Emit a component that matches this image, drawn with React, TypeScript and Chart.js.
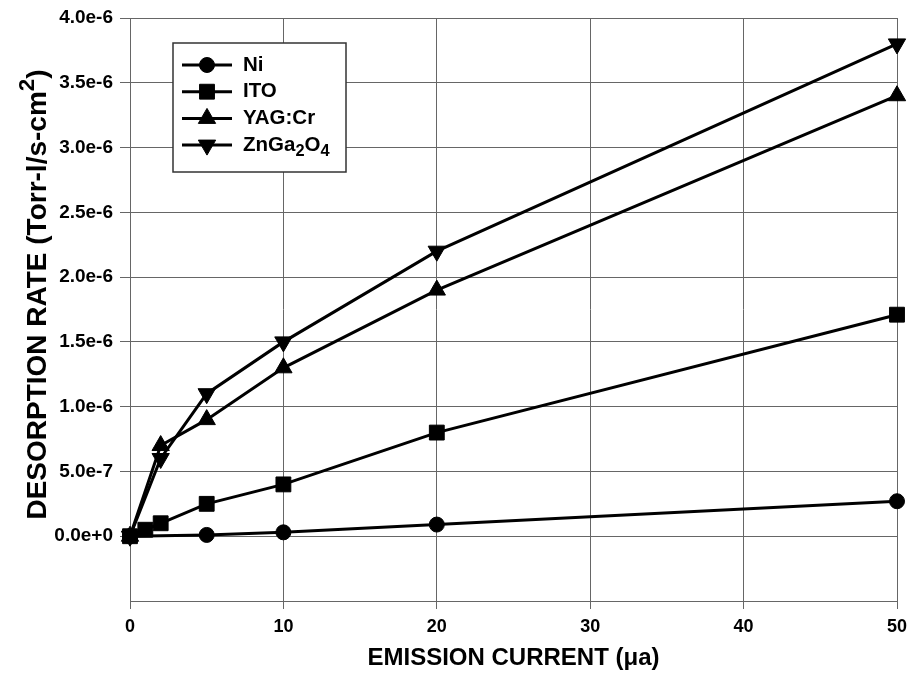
import React, { useEffect, useRef } from 'react';
import { Chart, registerables } from 'chart.js';
import { drawPoint } from 'chart.js/helpers';

Chart.register(...registerables);

// ---- data ----
const niCurrent = [0, 5, 10, 20, 50];
const niRate = [0, 0.01e-6, 0.03e-6, 0.09e-6, 0.27e-6];

const itoCurrent = [0, 1, 2, 5, 10, 20, 50];
const itoRate = [0, 0.05e-6, 0.1e-6, 0.25e-6, 0.4e-6, 0.8e-6, 1.71e-6];

const yagCurrent = [0, 2, 5, 10, 20, 50];
const yagRate = [0, 0.7e-6, 0.9e-6, 1.3e-6, 1.9e-6, 3.4e-6];

const znCurrent = [0, 2, 5, 10, 20, 50];
const znRate = [0, 0.6e-6, 1.1e-6, 1.5e-6, 2.2e-6, 3.8e-6];

const seriesLabels = ['Ni', 'ITO', 'YAG:Cr', 'ZnGa\u2082O\u2084'];
const xTitle = 'EMISSION CURRENT (\u03BCa)';
const yTitle = 'DESORPTION RATE (Torr-l/s-cm\u00B2)';

const FONT = "'Liberation Sans', Arial, Helvetica, sans-serif";

const SUB: Record<string, string> = { '\u2080': '0', '\u2081': '1', '\u2082': '2', '\u2083': '3', '\u2084': '4' };
const SUP: Record<string, string> = { '\u00B2': '2', '\u00B3': '3' };

function splitRich(text: string) {
  const parts: { t: string; k: 'n' | 'sub' | 'sup' }[] = [];
  for (const ch of text) {
    let k: 'n' | 'sub' | 'sup' = 'n';
    let t = ch;
    if (SUB[ch]) { k = 'sub'; t = SUB[ch]; }
    else if (SUP[ch]) { k = 'sup'; t = SUP[ch]; }
    const last = parts[parts.length - 1];
    if (last && last.k === k) last.t += t;
    else parts.push({ t, k });
  }
  return parts;
}

function richWidth(ctx: CanvasRenderingContext2D, text: string, size: number) {
  let w = 0;
  for (const p of splitRich(text)) {
    const s = p.k === 'n' ? size : size * 0.8;
    ctx.font = `bold ${s}px ${FONT}`;
    w += ctx.measureText(p.t).width;
  }
  return w;
}

function drawRich(ctx: CanvasRenderingContext2D, text: string, x: number, y: number, size: number) {
  let cx = x;
  ctx.textBaseline = 'middle';
  ctx.textAlign = 'left';
  for (const p of splitRich(text)) {
    const s = p.k === 'n' ? size : size * 0.8;
    const dy = p.k === 'sub' ? size * 0.32 : p.k === 'sup' ? -size * 0.38 : 0;
    ctx.font = `bold ${s}px ${FONT}`;
    ctx.fillText(p.t, cx, y + dy);
    cx += ctx.measureText(p.t).width;
  }
}

const legendPlugin = {
  id: 'boxLegend',
  afterDraw(chart: any) {
    const ctx: CanvasRenderingContext2D = chart.ctx;
    const { left, top } = chart.chartArea;
    const bx = left + 43;
    const by = top + 25;
    const bw = 173;
    const bh = 129;
    ctx.save();
    ctx.fillStyle = '#ffffff';
    ctx.fillRect(bx, by, bw, bh);
    ctx.strokeStyle = '#333';
    ctx.lineWidth = 1.5;
    ctx.strokeRect(bx, by, bw, bh);
    chart.data.datasets.forEach((ds: any, i: number) => {
      const y = by + 22 + i * 26.7;
      ctx.strokeStyle = '#000';
      ctx.lineWidth = 3;
      ctx.beginPath();
      ctx.moveTo(bx + 9, y);
      ctx.lineTo(bx + 59, y);
      ctx.stroke();
      ctx.fillStyle = '#000';
      ctx.lineWidth = 1;
      drawPoint(ctx, {
        pointStyle: ds.pointStyle,
        rotation: ds.pointRotation || 0,
        radius: ds.pointRadius,
        borderWidth: 1,
      } as any, bx + 34, y);
      ctx.fillStyle = '#000';
      drawRich(ctx, ds.label, bx + 70, y, 20.5);
    });
    ctx.restore();
  },
};

const yTitlePlugin = {
  id: 'yTitleRich',
  afterDraw(chart: any) {
    const ctx: CanvasRenderingContext2D = chart.ctx;
    const { top, bottom } = chart.chartArea;
    const size = 28;
    ctx.save();
    ctx.translate(38, (top + bottom) / 2 - 15);
    ctx.rotate(-Math.PI / 2);
    const w = richWidth(ctx, yTitle, size);
    ctx.fillStyle = '#000';
    drawRich(ctx, yTitle, -w / 2, 0, size);
    ctx.restore();
  },
};

function toPts(xs: number[], ys: number[]) {
  return xs.map((x, i) => ({ x, y: ys[i] }));
}

export default function App() {
  const ref = useRef<HTMLCanvasElement | null>(null);
  useEffect(() => {
    if (!ref.current) return;
    const common = {
      borderColor: '#000',
      backgroundColor: '#000',
      borderWidth: 3,
      pointBackgroundColor: '#000',
      pointBorderColor: '#000',
      pointBorderWidth: 1,
      tension: 0,
      fill: false,
      clip: false,
    };
    const grid = '#666';
    const chart = new Chart(ref.current, {
      type: 'line',
      data: {
        datasets: [
          { ...common, label: seriesLabels[0], data: toPts(niCurrent, niRate), pointStyle: 'circle', pointRadius: 7.5 },
          { ...common, label: seriesLabels[1], data: toPts(itoCurrent, itoRate), pointStyle: 'rect', pointRadius: 10.5 },
          { ...common, label: seriesLabels[2], data: toPts(yagCurrent, yagRate), pointStyle: 'triangle', pointRadius: 10 },
          { ...common, label: seriesLabels[3], data: toPts(znCurrent, znRate), pointStyle: 'triangle', pointRadius: 10, pointRotation: 180 },
        ] as any,
      },
      options: {
        animation: false,
        responsive: false,
        devicePixelRatio: 1,
        layout: { autoPadding: false, padding: { top: 18, right: 11, left: 0, bottom: 0 } },
        plugins: {
          legend: { display: false },
          tooltip: { enabled: false },
        },
        scales: {
          x: {
            type: 'linear',
            min: 0,
            max: 50,
            ticks: {
              stepSize: 10,
              color: '#000',
              font: { family: FONT, size: 18, weight: 'bold' },
              padding: 7,
              maxRotation: 0,
            },
            grid: { color: grid, lineWidth: 1, tickLength: 8, tickColor: grid },
            border: { display: true, color: grid, width: 1 },
            title: {
              display: true,
              text: xTitle,
              color: '#000',
              font: { family: FONT, size: 24, weight: 'bold' },
              padding: { top: 0, bottom: 4 },
            },
            afterFit: (s: any) => { s.height = 76; s.paddingLeft = 0; s.paddingRight = 0; },
          },
          y: {
            type: 'linear',
            min: -5e-7,
            max: 4e-6,
            ticks: {
              stepSize: 5e-7,
              color: '#000',
              font: { family: FONT, size: 19, weight: 'bold' },
              padding: 7,
              callback: (v: any) => (Number(v) < -1e-12 ? '' : Number(v).toExponential(1)),
            },
            grid: {
              color: grid,
              lineWidth: 1,
              tickLength: 10,
              tickColor: (c: any) => (c.tick && c.tick.value < -1e-12 ? 'rgba(0,0,0,0)' : grid),
            },
            border: { display: true, color: grid, width: 1 },
            title: { display: false },
            afterFit: (s: any) => { s.width = 130; s.paddingTop = 0; s.paddingBottom = 0; },
          },
        },
      } as any,
      plugins: [legendPlugin, yTitlePlugin],
    });
    return () => chart.destroy();
  }, []);
  return (
    <div style={{ position: 'absolute', left: 0, top: 0, width: 908, height: 677, background: '#fff' }}>
      <canvas ref={ref} width={908} height={677} />
    </div>
  );
}
